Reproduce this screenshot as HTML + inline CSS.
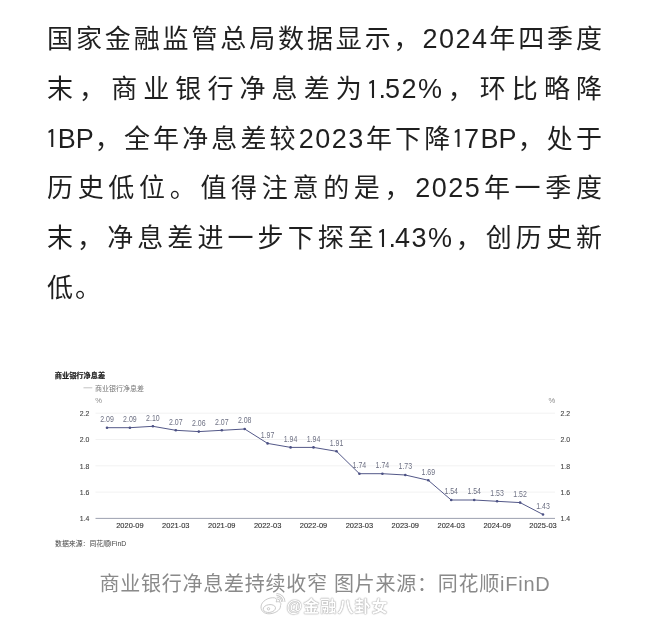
<!DOCTYPE html>
<html><head><meta charset="utf-8"><style>
html,body{margin:0;padding:0;background:#fff;}
body{width:650px;height:620px;position:relative;overflow:hidden;}
.t{position:absolute;left:47px;width:557px;font-family:"Liberation Sans","Noto Sans CJK SC",sans-serif;font-size:26px;letter-spacing:2px;color:#1f1f1f;line-height:30px;height:30px;white-space:nowrap;text-align:justify;text-align-last:justify;}
.t.l{text-align-last:left;}
.n{font-size:27px;letter-spacing:1.5px;}
.o{margin-left:-1.6px;letter-spacing:-0.5px;font-family:"IPAGothic",sans-serif;line-height:0;font-size:25.5px;position:relative;top:0.7px;}
.b{letter-spacing:0px;}
.d{letter-spacing:-1px;}
.cap{position:absolute;left:0;width:650px;top:572px;text-align:center;font-family:"Liberation Sans","Noto Sans CJK SC",sans-serif;font-size:20px;letter-spacing:0.75px;color:#8a8a8a;line-height:24px;white-space:nowrap;}
.wm{position:absolute;left:286.5px;top:596.8px;letter-spacing:1.1px;font-family:"Liberation Sans","Noto Sans CJK SC",sans-serif;font-size:16px;font-weight:bold;color:#fff;line-height:20px;white-space:nowrap;text-shadow:0 0 1px #999,0 0 1px #aaa,0 0 2px #ccc;}
svg{position:absolute;left:0;top:0;}
</style></head><body>
<div class="t" style="top:24.30px">国家金融监管总局数据显示，<span class="n">2024</span>年四季度</div>
<div class="t" style="top:73.95px">末，商业银行净息差为<span class="n"><span class="o">1</span><span class="d">.</span>52%</span>，环比略降</div>
<div class="t" style="top:123.60px"><span class="n"><span class="o">1</span><span class="b">B</span><span class="b">P</span></span>，全年净息差较<span class="n">2023</span>年下降<span class="n"><span class="o">1</span>7<span class="b">B</span><span class="b">P</span></span>，处于</div>
<div class="t" style="top:173.25px">历史低位。值得注意的是，<span class="n">2025</span>年一季度</div>
<div class="t" style="top:222.90px">末，净息差进一步下探至<span class="n"><span class="o">1</span><span class="d">.</span>43%</span>，创历史新</div>
<div class="t l" style="top:272.55px">低。</div>
<svg width="650" height="620" viewBox="0 0 650 620" font-family="Liberation Sans, Noto Sans CJK SC, sans-serif">
<text x="54.8" y="377.8" font-size="7.2" font-weight="bold" fill="#1e1e1e" stroke="#1e1e1e" stroke-width="0.2">商业银行净息差</text>
<line x1="83.5" x2="92.3" y1="387.8" y2="387.8" stroke="#999" stroke-width="0.6"/>
<text x="95" y="390.5" font-size="7" fill="#777">商业银行净息差</text>
<text x="95.2" y="402.7" font-size="7.6" fill="#8a8a8a">%</text>
<text x="548.6" y="402.7" font-size="7.6" fill="#8a8a8a">%</text>
<g stroke="#efefef" stroke-width="0.8"><line x1="95.5" x2="555" y1="413.2" y2="413.2"/><line x1="95.5" x2="555" y1="439.5" y2="439.5"/><line x1="95.5" x2="555" y1="465.8" y2="465.8"/><line x1="95.5" x2="555" y1="492.1" y2="492.1"/></g>
<line x1="95.5" x2="555" y1="518.4" y2="518.4" stroke="#9196a6" stroke-width="0.9"/>
<g font-size="7.9" fill="#444" stroke="#444" stroke-width="0.12"><text x="89.4" y="415.9" text-anchor="end" textLength="9.6" lengthAdjust="spacingAndGlyphs">2.2</text><text x="560.5" y="415.9" textLength="9.6" lengthAdjust="spacingAndGlyphs">2.2</text><text x="89.4" y="442.2" text-anchor="end" textLength="9.6" lengthAdjust="spacingAndGlyphs">2.0</text><text x="560.5" y="442.2" textLength="9.6" lengthAdjust="spacingAndGlyphs">2.0</text><text x="89.4" y="468.5" text-anchor="end" textLength="9.6" lengthAdjust="spacingAndGlyphs">1.8</text><text x="560.5" y="468.5" textLength="9.6" lengthAdjust="spacingAndGlyphs">1.8</text><text x="89.4" y="494.8" text-anchor="end" textLength="9.6" lengthAdjust="spacingAndGlyphs">1.6</text><text x="560.5" y="494.8" textLength="9.6" lengthAdjust="spacingAndGlyphs">1.6</text><text x="89.4" y="521.1" text-anchor="end" textLength="9.6" lengthAdjust="spacingAndGlyphs">1.4</text><text x="560.5" y="521.1" textLength="9.6" lengthAdjust="spacingAndGlyphs">1.4</text></g>
<polyline points="107.0,427.7 129.9,427.7 152.9,426.3 175.8,430.3 198.8,431.6 221.8,430.3 244.7,429.0 267.6,443.4 290.6,447.4 313.5,447.4 336.5,451.3 359.4,473.7 382.4,473.7 405.3,475.0 428.3,480.3 451.2,500.0 474.2,500.0 497.1,501.3 520.1,502.6 543.0,514.5" fill="none" stroke="#535888" stroke-width="1.0" stroke-linejoin="round"/>
<g fill="#4c5184"><circle cx="107.0" cy="427.7" r="1.3"/><circle cx="129.9" cy="427.7" r="1.3"/><circle cx="152.9" cy="426.3" r="1.3"/><circle cx="175.8" cy="430.3" r="1.3"/><circle cx="198.8" cy="431.6" r="1.3"/><circle cx="221.8" cy="430.3" r="1.3"/><circle cx="244.7" cy="429.0" r="1.3"/><circle cx="267.6" cy="443.4" r="1.3"/><circle cx="290.6" cy="447.4" r="1.3"/><circle cx="313.5" cy="447.4" r="1.3"/><circle cx="336.5" cy="451.3" r="1.3"/><circle cx="359.4" cy="473.7" r="1.3"/><circle cx="382.4" cy="473.7" r="1.3"/><circle cx="405.3" cy="475.0" r="1.3"/><circle cx="428.3" cy="480.3" r="1.3"/><circle cx="451.2" cy="500.0" r="1.3"/><circle cx="474.2" cy="500.0" r="1.3"/><circle cx="497.1" cy="501.3" r="1.3"/><circle cx="520.1" cy="502.6" r="1.3"/><circle cx="543.0" cy="514.5" r="1.3"/></g>
<g font-size="8.5" fill="#6e7184" text-anchor="middle"><text x="107.0" y="421.9" textLength="13.6" lengthAdjust="spacingAndGlyphs">2.09</text><text x="129.9" y="421.9" textLength="13.6" lengthAdjust="spacingAndGlyphs">2.09</text><text x="152.9" y="420.5" textLength="13.6" lengthAdjust="spacingAndGlyphs">2.10</text><text x="175.8" y="424.5" textLength="13.6" lengthAdjust="spacingAndGlyphs">2.07</text><text x="198.8" y="425.8" textLength="13.6" lengthAdjust="spacingAndGlyphs">2.06</text><text x="221.8" y="424.5" textLength="13.6" lengthAdjust="spacingAndGlyphs">2.07</text><text x="244.7" y="423.2" textLength="13.6" lengthAdjust="spacingAndGlyphs">2.08</text><text x="267.6" y="437.6" textLength="13.6" lengthAdjust="spacingAndGlyphs">1.97</text><text x="290.6" y="441.6" textLength="13.6" lengthAdjust="spacingAndGlyphs">1.94</text><text x="313.5" y="441.6" textLength="13.6" lengthAdjust="spacingAndGlyphs">1.94</text><text x="336.5" y="445.5" textLength="13.6" lengthAdjust="spacingAndGlyphs">1.91</text><text x="359.4" y="467.9" textLength="13.6" lengthAdjust="spacingAndGlyphs">1.74</text><text x="382.4" y="467.9" textLength="13.6" lengthAdjust="spacingAndGlyphs">1.74</text><text x="405.3" y="469.2" textLength="13.6" lengthAdjust="spacingAndGlyphs">1.73</text><text x="428.3" y="474.5" textLength="13.6" lengthAdjust="spacingAndGlyphs">1.69</text><text x="451.2" y="494.2" textLength="13.6" lengthAdjust="spacingAndGlyphs">1.54</text><text x="474.2" y="494.2" textLength="13.6" lengthAdjust="spacingAndGlyphs">1.54</text><text x="497.1" y="495.5" textLength="13.6" lengthAdjust="spacingAndGlyphs">1.53</text><text x="520.1" y="496.8" textLength="13.6" lengthAdjust="spacingAndGlyphs">1.52</text><text x="543.0" y="508.7" textLength="13.6" lengthAdjust="spacingAndGlyphs">1.43</text></g>
<g font-size="7.8" fill="#333" stroke="#333" stroke-width="0.12" text-anchor="middle"><text x="129.9" y="528.4" textLength="27.4" lengthAdjust="spacingAndGlyphs">2020-09</text><text x="175.8" y="528.4" textLength="27.4" lengthAdjust="spacingAndGlyphs">2021-03</text><text x="221.8" y="528.4" textLength="27.4" lengthAdjust="spacingAndGlyphs">2021-09</text><text x="267.6" y="528.4" textLength="27.4" lengthAdjust="spacingAndGlyphs">2022-03</text><text x="313.5" y="528.4" textLength="27.4" lengthAdjust="spacingAndGlyphs">2022-09</text><text x="359.4" y="528.4" textLength="27.4" lengthAdjust="spacingAndGlyphs">2023-03</text><text x="405.3" y="528.4" textLength="27.4" lengthAdjust="spacingAndGlyphs">2023-09</text><text x="451.2" y="528.4" textLength="27.4" lengthAdjust="spacingAndGlyphs">2024-03</text><text x="497.1" y="528.4" textLength="27.4" lengthAdjust="spacingAndGlyphs">2024-09</text><text x="543.0" y="528.4" textLength="27.4" lengthAdjust="spacingAndGlyphs">2025-03</text></g>
<text x="55" y="545.9" font-size="6.9" fill="#444">数据来源：同花顺iFinD</text>
</svg>
<div class="cap">商业银行净息差持续收窄 图片来源：同花顺iFinD</div>
<svg width="650" height="620" viewBox="0 0 650 620" style="position:absolute;left:0;top:0">
<g fill="#fff" stroke="#c4c4c4" stroke-width="0.9">
<path d="M261 607 C 261 601, 269 597, 274.5 597.8 C 277 598.3, 276.8 600.5, 276.2 602 C 279.5 601, 281.8 602.5, 280.5 605.5 C 281 610.5, 274 613.8, 269 613.8 C 264 613.8, 261 611, 261 607 Z"/>
<ellipse cx="269.3" cy="608.5" rx="6.2" ry="3.9" transform="rotate(-8 269.5 608.3)"/>
<circle cx="268.5" cy="608.8" r="1.2"/>
<path d="M276.5 594.5 A 7.5 7.5 0 0 1 284 602" fill="none" stroke-width="2.8"/><path d="M276.5 594.5 A 7.5 7.5 0 0 1 284 602" fill="none" stroke="#fff" stroke-width="1.2"/>
<path d="M276.8 598 A 4 4 0 0 1 280.8 602" fill="none" stroke-width="2.6"/><path d="M276.8 598 A 4 4 0 0 1 280.8 602" fill="none" stroke="#fff" stroke-width="1.1"/>
</g></svg>
<div class="wm">@金融八卦女</div>
</body></html>
